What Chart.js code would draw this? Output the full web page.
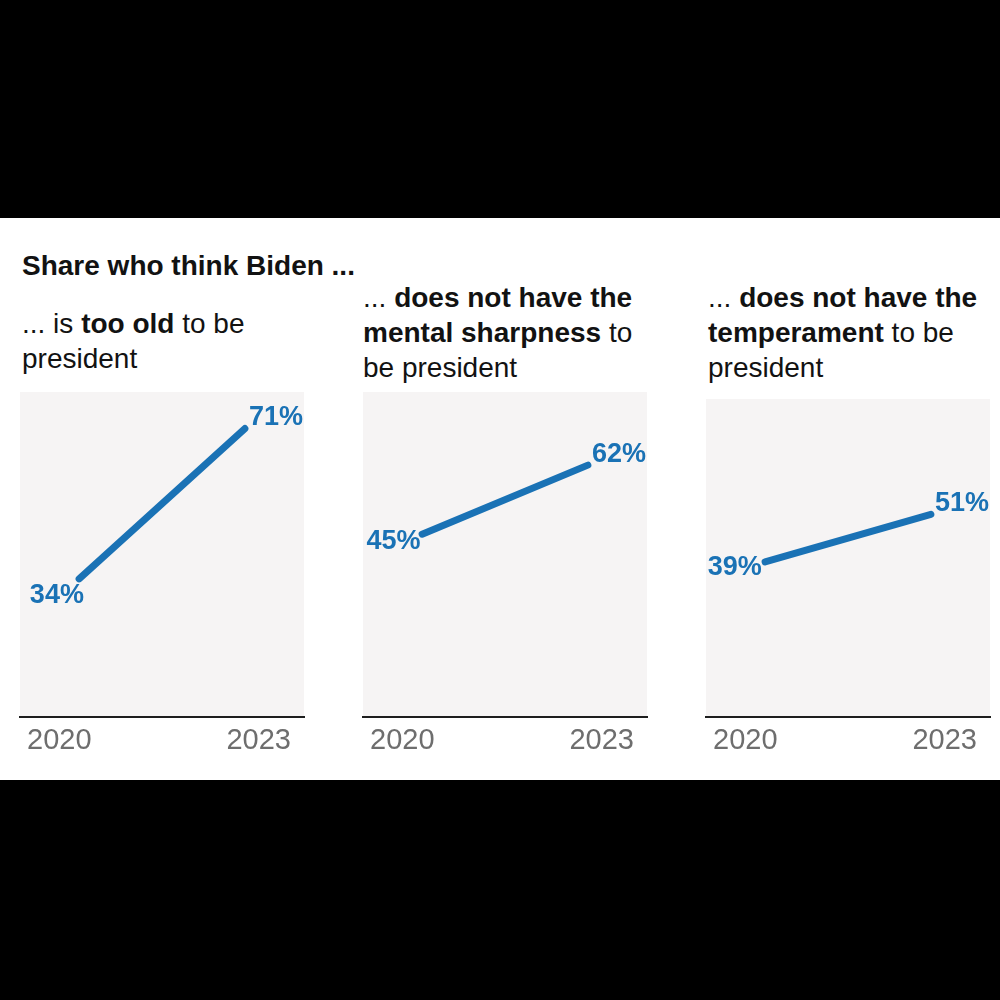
<!DOCTYPE html>
<html>
  <head>
    <title>Share who think Biden</title>
    <script src="https://cdn.jsdelivr.net/npm/chart.js"></script>
    <style>
      body {
        margin: 0;
        background-color: #000000;
        font-family: "Liberation Sans", Arial, sans-serif;
      }
      .band {
        position: absolute;
        left: 0;
        top: 218px;
        width: 1000px;
        height: 562px;
        background-color: #ffffff;
      }
      .heading {
        position: absolute;
        left: 22px;
        top: 251px;
        font-size: 28px;
        line-height: 30px;
        font-weight: bold;
        color: #121212;
        white-space: nowrap;
      }
      .sub {
        position: absolute;
        font-size: 28px;
        line-height: 35px;
        color: #121212;
        white-space: nowrap;
      }
      .panel {
        position: absolute;
      }
    </style>
  </head>
  <body>
    <div class="band"></div>
    <div class="heading">Share who think Biden ...</div>
    <div class="sub" style="left: 22px; top: 306px">
      ... is <b>too old</b> to be<br />president
    </div>
    <div class="sub" style="left: 363px; top: 280px">
      ... <b>does not have the</b><br /><b>mental sharpness</b> to<br />be president
    </div>
    <div class="sub" style="left: 708px; top: 280px">
      ... <b>does not have the</b><br /><b>temperament</b> to be<br />president
    </div>

    <div class="panel" style="left: 0px; top: 380px; width: 330px; height: 390px">
      <canvas id="chart1"></canvas>
    </div>
    <div class="panel" style="left: 340px; top: 380px; width: 330px; height: 390px">
      <canvas id="chart2"></canvas>
    </div>
    <div class="panel" style="left: 680px; top: 380px; width: 320px; height: 390px">
      <canvas id="chart3"></canvas>
    </div>

    <script>
      const years = ["2020", "2023"];
      const yearValues = [2020, 2023];
      const tooOld = [34, 71];
      const mentalSharpness = [45, 62];
      const temperament = [39, 51];

      const blue = "#1a72b5";

      // gray panel behind the plot area
      const panelBg = {
        id: "panelBg",
        beforeDraw(chart) {
          const a = chart.chartArea;
          const ctx = chart.ctx;
          ctx.save();
          ctx.fillStyle = "#f6f4f4";
          ctx.fillRect(a.left, a.top, a.right - a.left, a.bottom - a.top);
          ctx.restore();
        },
      };

      // start / end value labels and year labels
      const labels = {
        id: "labels",
        afterDatasetsDraw(chart) {
          const ctx = chart.ctx;
          const a = chart.chartArea;
          const pts = chart.getDatasetMeta(0).data;
          const vals = chart.data.datasets[0].data;
          const p0 = pts[0];
          const p1 = pts[pts.length - 1];
          const slope = (p0.y - p1.y) / (p1.x - p0.x);

          ctx.save();
          ctx.fillStyle = blue;
          ctx.font = "bold 27px 'Liberation Sans', Arial, sans-serif";
          ctx.textBaseline = "middle";
          ctx.textAlign = "right";
          ctx.fillText(vals[0].y + "%", p0.x + 13 * slope - 7, p0.y + 18 * slope);
          ctx.textAlign = "left";
          ctx.fillText(vals[vals.length - 1].y + "%", p1.x + 4, p1.y - 11);

          ctx.fillStyle = "#6e6e6e";
          ctx.font = "29px 'Liberation Sans', Arial, sans-serif";
          ctx.textBaseline = "alphabetic";
          ctx.textAlign = "left";
          ctx.fillText(years[0], a.left + 7, a.bottom + 32);
          ctx.textAlign = "right";
          ctx.fillText(years[years.length - 1], a.right - 13, a.bottom + 32);
          ctx.restore();
        },
      };

      function makeChart(id, values, padding) {
        const ctx = document.getElementById(id).getContext("2d");
        return new Chart(ctx, {
          type: "line",
          data: {
            datasets: [
              {
                data: yearValues.map((y, i) => ({ x: y, y: values[i] })),
                borderColor: blue,
                borderWidth: 7,
                borderCapStyle: "round",
                pointRadius: 0,
                tension: 0,
                fill: false,
                clip: false,
              },
            ],
          },
          options: {
            responsive: true,
            maintainAspectRatio: false,
            animation: false,
            layout: { padding: padding },
            plugins: {
              legend: { display: false },
              tooltip: { enabled: false },
            },
            scales: {
              x: {
                type: "linear",
                min: 2018.93,
                max: 2024.07,
                grid: { display: false, drawTicks: false },
                ticks: { display: false },
                border: { display: true, color: "#1e1e1e", width: 2 },
              },
              y: {
                display: false,
                min: 0,
                max: 80,
              },
            },
          },
          plugins: [panelBg, labels],
        });
      }

      makeChart("chart1", tooOld, { left: 20, right: 26, top: 12, bottom: 53 });
      makeChart("chart2", mentalSharpness, { left: 23, right: 23, top: 12, bottom: 53 });
      makeChart("chart3", temperament, { left: 26, right: 10, top: 19, bottom: 53 });
    </script>
  </body>
</html>
